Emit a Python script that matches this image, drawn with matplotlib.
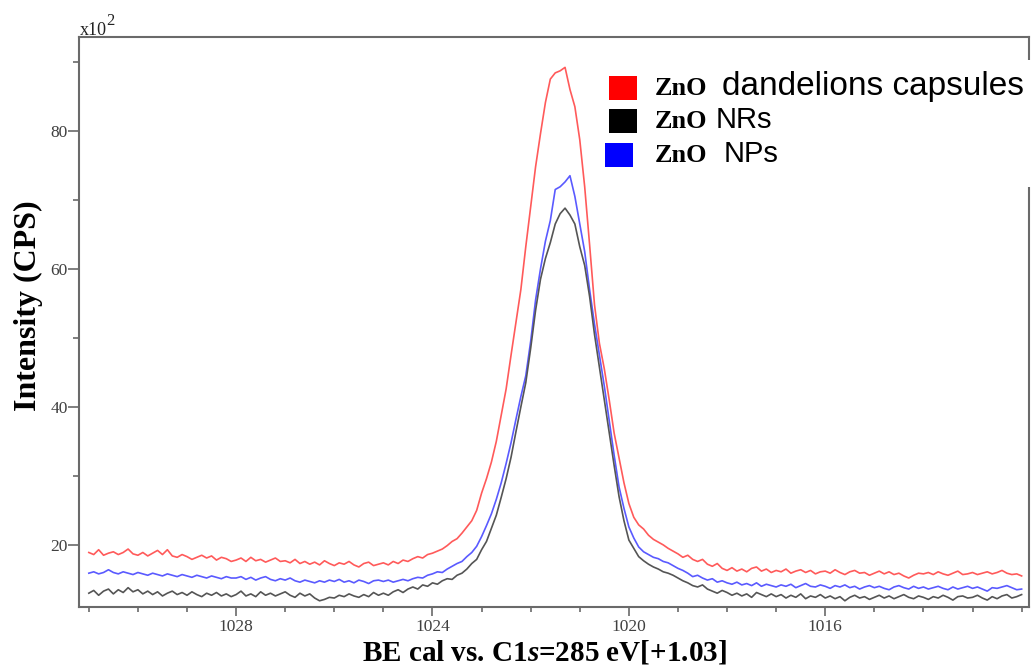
import numpy as np
import matplotlib
matplotlib.use("Agg")
import matplotlib.pyplot as plt
from matplotlib.ticker import MultipleLocator
from matplotlib.patches import Rectangle

# binding energy grid (eV), 0.1 eV step, high -> low
be = np.round(np.arange(1031.0, 1011.95, -0.1), 1)

# intensities in units of x10^2 CPS, one row per eV
red_capsules = [
    18.9, 18.6, 19.3, 18.5, 18.8, 19.0, 18.6, 18.9, 19.4, 18.7,
    18.5, 18.9, 18.4, 18.8, 19.2, 18.6, 19.3, 18.4, 18.2, 18.6,
    18.3, 17.9, 18.2, 18.5, 18.1, 18.4, 17.8, 18.2, 18.0, 17.6,
    17.8, 18.1, 17.6, 18.2, 17.7, 17.9, 17.5, 17.8, 18.1, 17.6,
    17.7, 17.4, 17.9, 17.3, 17.6, 17.2, 17.5, 17.1, 17.7, 17.3,
    17.0, 17.4, 17.2, 17.6, 17.1, 16.8, 17.3, 17.5, 17.0, 17.2,
    17.4, 17.1, 17.6, 17.3, 17.8, 17.6, 18.0, 18.3, 18.1, 18.6,
    18.8, 19.1, 19.4, 19.9, 20.5, 20.9, 21.7, 22.6, 23.5, 25.0,
    27.5, 29.6, 32.0, 35.0, 38.8, 42.6, 47.5, 52.2, 57.0, 63.2,
    69.0, 74.8, 79.6, 84.1, 87.5, 88.4, 88.7, 89.2, 86.0, 83.5,
    78.7, 71.9, 63.5, 54.8, 49.2, 45.5, 41.0, 36.2, 32.6, 29.0,
    26.0, 24.0, 22.9, 22.3, 21.4, 20.8, 20.4, 20.0, 19.5, 19.1,
    18.7, 18.2, 18.5, 17.9, 17.6, 17.9, 17.2, 16.9, 17.3, 16.6,
    16.3, 16.7, 16.2, 16.5, 16.1, 16.6, 16.8, 16.2, 16.5, 16.0,
    16.3, 16.1, 16.5, 15.9, 16.2, 16.4, 16.0, 16.3, 15.8, 16.1,
    16.2, 15.9, 16.4, 16.0, 15.7, 16.1, 16.3, 15.9, 16.0, 15.6,
    15.9, 16.2, 15.8, 16.1, 15.7, 15.9, 15.5, 15.2, 15.6, 15.9,
    15.8, 16.0, 15.7, 16.1, 15.8, 15.6, 15.9, 16.2, 15.7, 15.8,
    16.0, 15.7, 15.9, 16.1, 15.8, 16.0, 16.3, 15.9, 15.7, 15.8,
    15.5,
]

blue_nps = [
    15.9, 16.1, 15.8, 16.0, 16.4, 16.0, 15.8, 16.1, 15.9, 15.7,
    16.0, 15.8, 15.6, 15.9, 15.7, 15.5, 15.8, 15.6, 15.4, 15.7,
    15.5, 15.3, 15.6, 15.4, 15.2, 15.5, 15.3, 15.1, 15.4, 15.2,
    15.2, 15.4, 15.0, 15.3, 14.9, 15.2, 15.4, 15.0, 14.8, 15.1,
    14.9, 15.2, 14.8, 14.6, 14.9, 14.7, 14.5, 14.8, 14.6, 14.9,
    14.7, 15.0, 14.6, 14.8, 14.5, 14.9, 14.7, 14.4, 14.8, 14.9,
    14.7, 14.9, 14.6, 14.8, 15.0, 14.8, 15.1, 15.3, 15.2, 15.6,
    15.8, 16.1, 16.0, 16.5, 16.9, 17.3, 17.6, 18.3, 18.9, 19.8,
    21.2, 22.8, 24.5, 26.6, 29.0, 31.8, 34.8, 38.2, 41.5, 44.5,
    49.5, 55.5, 60.0, 64.0, 67.0, 71.5, 71.9, 72.6, 73.5, 70.5,
    66.5, 62.5, 57.0, 52.0, 47.5, 43.0, 38.0, 33.0, 28.4, 25.3,
    22.6, 21.0, 19.7, 19.0, 18.6, 18.2, 18.0, 17.6, 17.4, 17.0,
    16.6, 16.3, 15.9, 15.4, 15.6, 15.2, 14.9, 15.1, 14.6, 14.8,
    14.5, 14.3, 14.6, 14.2, 14.4, 14.1, 14.5, 14.0, 14.3, 14.1,
    13.9, 14.2, 14.0, 14.3, 13.8, 14.1, 14.4, 14.0, 13.9, 14.2,
    14.0, 13.7, 14.1, 13.9, 14.2, 13.8, 14.0, 13.6, 13.9, 14.1,
    13.8, 14.0, 13.7, 13.5, 13.9, 14.1, 13.8, 13.6, 14.0, 13.7,
    13.9, 13.6, 13.8, 14.0, 13.7, 13.5, 13.9, 13.6, 13.8, 14.0,
    13.7, 13.9, 13.6, 13.3, 13.8, 13.7, 13.9, 14.1, 13.8, 13.5,
    13.6,
]

black_nrs = [
    13.0, 13.4, 12.7, 13.3, 13.6, 12.9, 13.5, 13.1, 13.8, 13.2,
    13.5, 12.9, 13.3, 12.8, 13.2, 12.6, 13.0, 13.3, 12.8, 13.1,
    12.7, 13.2, 12.8, 12.5, 13.0, 12.7, 13.1, 12.6, 12.9, 12.5,
    12.8, 13.3, 12.6, 12.9, 12.5, 13.2, 12.7, 13.0, 12.6, 12.9,
    13.2, 12.7, 12.4, 13.0, 12.6, 12.9, 12.3, 11.9, 12.1, 12.4,
    12.3, 12.7, 12.5, 12.9, 12.6, 12.4, 12.8, 12.5, 13.1, 12.7,
    13.0, 12.7, 13.2, 13.5, 13.1, 13.6, 13.9, 13.6, 14.2, 14.0,
    14.5, 14.3, 14.8, 15.1, 15.0, 15.6, 15.9, 16.5, 17.3, 17.9,
    19.3, 20.5, 22.4, 24.3, 26.9, 29.6, 32.7, 36.4, 40.0, 43.5,
    48.5, 54.0, 58.5, 61.5, 63.8, 66.5, 68.0, 68.8, 67.8, 66.5,
    63.2, 60.5, 56.0, 50.5, 45.8, 41.0, 36.2, 31.5, 27.0, 23.5,
    20.7, 19.5, 18.3, 17.7, 17.2, 16.8, 16.5, 16.1, 15.9, 15.6,
    15.2, 14.8, 14.5, 14.1, 13.9, 14.2, 13.6, 13.3, 13.0, 13.4,
    13.1, 12.7, 13.0, 12.6, 12.9, 12.4, 13.1, 12.8, 12.5, 12.9,
    12.5, 12.8, 12.3, 12.7, 12.4, 12.9, 12.2, 12.6, 12.4, 12.8,
    12.3, 12.6, 12.2, 12.5, 11.9, 12.4, 12.7, 12.3, 12.5, 12.1,
    12.4, 12.7, 12.3, 12.6, 12.2, 12.5, 12.8, 12.4, 12.2, 12.6,
    12.4, 12.1, 12.5, 12.3, 12.7, 12.4, 12.0, 12.5, 12.6, 12.3,
    12.4, 12.7, 12.3, 12.0, 12.5, 12.2, 12.6, 12.8, 12.3, 12.5,
    12.8,
]

legend_names = ["dandelions capsules", "NRs", "NPs"]
xticks_major = [1028, 1024, 1020, 1016]
yticks_major = [20, 40, 60, 80]

plt.rcParams["mathtext.fontset"] = "custom"
plt.rcParams["mathtext.rm"] = "Liberation Serif:bold"
plt.rcParams["mathtext.it"] = "Liberation Serif:italic:bold"

W, H = 1035, 667
fig = plt.figure(figsize=(W / 100, H / 100), dpi=100)


def fx(px):
    return px / W


def fy(py):
    return 1 - py / H


ax = fig.add_axes([fx(79), fy(607), fx(1029 - 79), (607 - 37) / H])

ax.plot(be, red_capsules, color="#ff5a5a", lw=1.2)
ax.plot(be, blue_nps, color="#5a5aff", lw=1.2)
ax.plot(be, black_nrs, color="#555555", lw=1.2)

ax.set_xlim(1031.2, 1011.85)
ax.set_ylim(11.0, 93.6)

ax.set_xticks(xticks_major)
ax.xaxis.set_minor_locator(MultipleLocator(1))
ax.set_yticks(yticks_major)
ax.yaxis.set_minor_locator(MultipleLocator(10))

for s in ax.spines.values():
    s.set_color("#6a6a6a")
    s.set_linewidth(1.5)

ax.tick_params(axis="both", which="both", direction="out", color="#6a6a6a",
               width=1.2, labelcolor="#404040")
ax.tick_params(axis="y", which="major", length=8, pad=0)
ax.tick_params(axis="y", which="minor", length=4)
ax.tick_params(axis="x", which="major", length=6.5, pad=2)
ax.tick_params(axis="x", which="minor", length=3.5)
for lab in ax.get_xticklabels() + ax.get_yticklabels():
    lab.set_fontfamily("Liberation Serif")
    lab.set_fontsize(12.5)

# axis labels
fig.text(fx(28), fy(306), "Intensity (CPS)", rotation=90, ha="center", va="center",
         family="Liberation Serif", weight="bold", fontsize=23)
fig.text(fx(544), fy(660), "BE cal vs. C1$s$=285 eV[+1.03]", ha="center", va="baseline",
         family="Liberation Serif", weight="bold", fontsize=21)

# x10^2 multiplier
fig.text(fx(80), fy(35), "x10", family="Liberation Serif", fontsize=13, color="#222222",
         va="baseline")
fig.text(fx(106.5), fy(25), "2", family="Liberation Serif", fontsize=12, color="#222222",
         va="baseline")

# legend box (covers the right spine like in the original)
fig.patches.append(Rectangle((fx(600), fy(187)), fx(1035 - 600), (187 - 60) / H,
                             transform=fig.transFigure, facecolor="white",
                             edgecolor="none", zorder=5))
colors = ["#ff0000", "#000000", "#0000ff"]
sq_x = [609, 609, 605]
base_y = [95, 128, 162]
for c, x0, yb in zip(colors, sq_x, base_y):
    fig.patches.append(Rectangle((fx(x0), fy(yb + 5)), fx(28), 24 / H,
                                 transform=fig.transFigure, facecolor=c,
                                 edgecolor="none", zorder=6))
    fig.text(fx(655), fy(yb), "ZnO", family="Liberation Serif", weight="bold",
             fontsize=19, va="baseline", zorder=7)
for name, x0, yb, fs in zip(legend_names, [722, 716, 724], base_y, [24, 21, 21]):
    fig.text(fx(x0), fy(yb), name, family="Liberation Sans", fontsize=fs,
             va="baseline", zorder=7)

fig.savefig("out.png", dpi=100)
